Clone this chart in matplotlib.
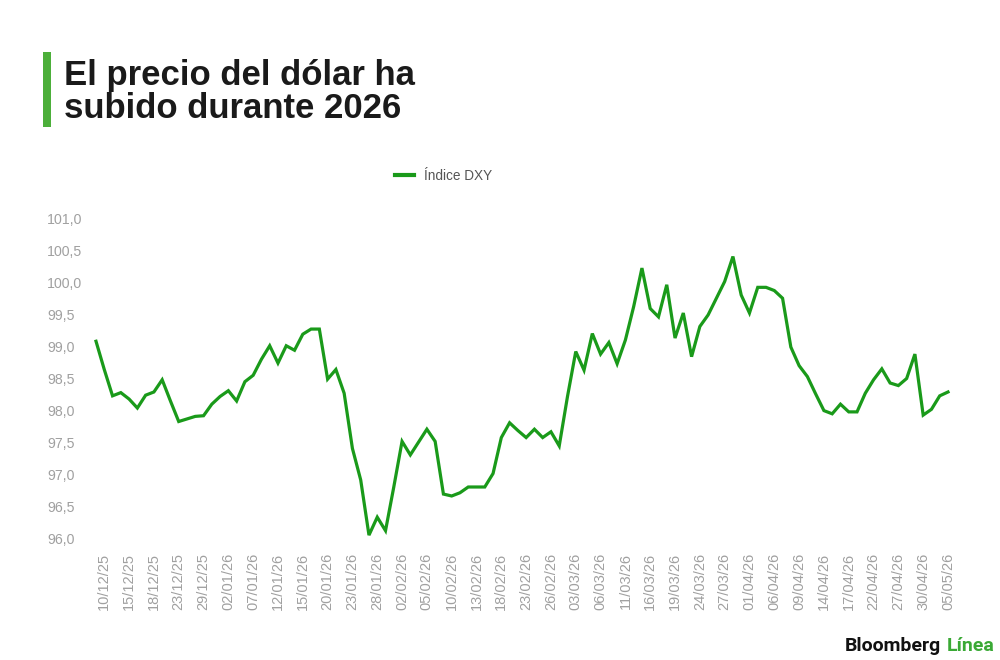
import matplotlib
matplotlib.use("Agg")
import matplotlib.pyplot as plt
from matplotlib.patches import Rectangle

# ---------------- data ----------------
tick_labels = ["10/12/25", "15/12/25", "18/12/25", "23/12/25", "29/12/25",
               "02/01/26", "07/01/26", "12/01/26", "15/01/26", "20/01/26",
               "23/01/26", "28/01/26", "02/02/26", "05/02/26", "10/02/26",
               "13/02/26", "18/02/26", "23/02/26", "26/02/26", "03/03/26",
               "06/03/26", "11/03/26", "16/03/26", "19/03/26", "24/03/26",
               "27/03/26", "01/04/26", "06/04/26", "09/04/26", "14/04/26",
               "17/04/26", "22/04/26", "27/04/26", "30/04/26", "05/05/26"]

dxy = [99.08, 98.64, 98.23, 98.28, 98.18, 98.04, 98.24, 98.29, 98.48, 98.15,
       97.83, 97.87, 97.91, 97.92, 98.10, 98.22, 98.31, 98.15, 98.45, 98.55,
       98.80, 99.01, 98.74, 99.01, 98.94, 99.19, 99.27, 99.27, 98.49, 98.64,
       98.27, 97.41, 96.92, 96.06, 96.34, 96.13, 96.81, 97.52, 97.31, 97.51,
       97.71, 97.52, 96.70, 96.67, 96.72, 96.81, 96.81, 96.81, 97.02, 97.58,
       97.81, 97.69, 97.58, 97.71, 97.58, 97.67, 97.45, 98.22, 98.92, 98.63,
       99.20, 98.88, 99.06, 98.73, 99.10, 99.62, 100.22, 99.59, 99.46, 99.96,
       99.13, 99.52, 98.84, 99.31, 99.49, 99.75, 100.01, 100.40, 99.80, 99.52,
       99.92, 99.92, 99.87, 99.75, 98.99, 98.70, 98.53, 98.26, 98.00, 97.95,
       98.10, 97.98, 97.98, 98.27, 98.48, 98.65, 98.43, 98.39, 98.50, 98.88,
       97.93, 98.02, 98.23, 98.29]

y_ticks = [96.0, 96.5, 97.0, 97.5, 98.0, 98.5, 99.0, 99.5, 100.0, 100.5, 101.0]
series_name = "Índice DXY"
title_lines = ["El precio del dólar ha", "subido durante 2026"]

# ---------------- style ----------------
W, H = 1000, 660
LINE_GREEN = "#1a9a1a"
BAR_GREEN = "#4caf3a"
LOGO_GREEN = "#3aa935"
TICK_GRAY = "#a0a0a0"
FONT = "Liberation Sans"
TITLE_FONT = ["Liberation Sans", "DejaVu Sans"]
LOGO_FONT = ["Roboto", "Liberation Sans", "DejaVu Sans"]

plt.rcParams["font.family"] = [FONT, "DejaVu Sans"]

fig = plt.figure(figsize=(W / 100, H / 100), dpi=100)
fig.patch.set_facecolor("white")

def fx(px):
    return px / W

def fy(py):
    return 1 - py / H

# axes: data x from 96 px to 948 px, y 96 at 539 px, 101 at 218 px
ax = fig.add_axes([fx(96), fy(539), fx(948) - fx(96), fy(218) - fy(539)])
ax.set_facecolor("white")
x = list(range(len(dxy)))
line, = ax.plot(x, dxy, color=LINE_GREEN, lw=2.3, solid_joinstyle="miter",
                clip_on=False, label=series_name)
ax.set_xlim(0, len(dxy) - 1)
ax.set_ylim(96, 101)
for s in ax.spines.values():
    s.set_visible(False)

tick_pos = [1 + 3 * k for k in range(len(tick_labels))]
ax.set_xticks(tick_pos)
ax.set_xticklabels(tick_labels, rotation=90, fontsize=10.5, color=TICK_GRAY,
                   va="top", ha="center")
ax.tick_params(axis="x", length=0, pad=10)

ax.set_yticks(y_ticks)
ax.set_yticklabels([f"{v:.1f}".replace(".", ",") for v in y_ticks],
                   fontsize=10.2, color=TICK_GRAY)
ax.tick_params(axis="y", length=0, pad=49 * 72 / 100)
for lab in ax.get_yticklabels():
    lab.set_horizontalalignment("left")

# legend
leg = fig.legend(handles=[line], labels=[series_name], loc="center left",
                 bbox_to_anchor=(fx(395), fy(176)), frameon=False,
                 fontsize=9.8, handlelength=1.4, handletextpad=0.7,
                 borderpad=0, borderaxespad=0)
for t in leg.get_texts():
    t.set_color("#555555")
for h in leg.legend_handles:
    h.set_linewidth(3)

# title bar
fig.add_artist(Rectangle((fx(42.5), fy(126.5)), fx(8.3), fy(51.5) - fy(126.5),
                         transform=fig.transFigure, color=BAR_GREEN, lw=0))

# title, fit to width
fig.canvas.draw()
renderer = fig.canvas.get_renderer()
t1 = fig.text(fx(64), fy(84.5), title_lines[0], fontsize=24, fontweight="bold",
              family=TITLE_FONT, color="#1a1a1a", ha="left", va="baseline")
w1 = t1.get_window_extent(renderer).width
fs = 24 * 352 / w1
t1.set_fontsize(fs)
fig.text(fx(64), fy(117.5), title_lines[1], fontsize=fs, fontweight="bold",
         family=TITLE_FONT, color="#1a1a1a", ha="left", va="baseline")

# logo
b = fig.text(fx(845), fy(651), "Bloomberg", fontsize=12, fontweight="bold",
             family=LOGO_FONT, color="#111111", ha="left", va="baseline")
l = fig.text(fx(845), fy(651), "Línea", fontsize=12, fontweight="bold",
             family=LOGO_FONT, color=LOGO_GREEN, ha="left", va="baseline")
fig.canvas.draw()
wb = b.get_window_extent(renderer).width
wl = l.get_window_extent(renderer).width
gap = 0.28 * 12 * 100 / 72
scale = 149 / (wb + wl + gap)
lfs = 12 * scale
b.set_fontsize(lfs)
l.set_fontsize(lfs)
fig.canvas.draw()
wb = b.get_window_extent(renderer).width
l.set_x(fx(845 + wb + 0.28 * lfs * 100 / 72))

fig.savefig("out.png", dpi=100, facecolor="white")
